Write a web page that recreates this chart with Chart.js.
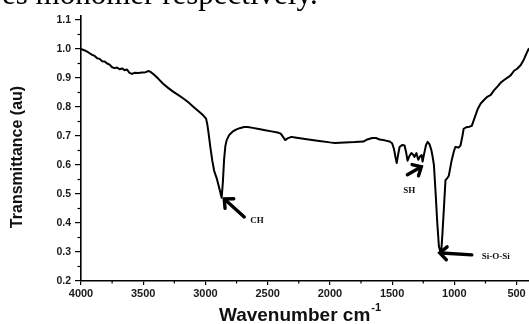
<!DOCTYPE html>
<html>
<head>
<meta charset="utf-8">
<script src="https://cdn.jsdelivr.net/npm/chart.js@4.4.1/dist/chart.umd.min.js"></script>
<style>
  html, body { margin: 0; padding: 0; background: #fff; }
  #area { width: 529px; height: 324px; }
</style>
</head>
<body>
<div id="area"><canvas id="graficoFTIR" width="529" height="324"></canvas></div>
<script>
// espectro FTIR (numero de onda em cm-1 e transmitancia)
const numeroOnda = [
  4000, 3970, 3940, 3910, 3890, 3870, 3850, 3830, 3810, 3790, 3770, 3750, 3730, 3710, 3690, 3670,
  3650, 3630, 3610, 3590, 3570, 3540, 3510, 3480, 3460, 3440, 3410, 3380, 3340, 3300, 3260, 3220,
  3180, 3140, 3100, 3060, 3020, 2995, 2985, 2975, 2960, 2945, 2930, 2910, 2895, 2880, 2870, 2860,
  2850, 2840, 2830, 2810, 2785, 2755, 2725, 2690, 2660, 2620, 2570, 2520, 2470, 2420, 2395, 2375,
  2360, 2340, 2310, 2280, 2200, 2100, 2000, 1960, 1880, 1800, 1730, 1700, 1660, 1630, 1600, 1560,
  1520, 1500, 1485, 1472, 1463, 1452, 1440, 1420, 1400, 1388, 1376, 1362, 1345, 1332, 1320, 1305,
  1290, 1275, 1263, 1255, 1242, 1228, 1215, 1200, 1185, 1175, 1164, 1150, 1137, 1124, 1110, 1104,
  1096, 1088, 1080, 1071, 1060, 1045, 1035, 1022, 1005, 992, 965, 950, 935, 925, 905, 880,
  860, 835, 810, 788, 760, 735, 707, 680, 650, 627, 600, 570, 546, 520, 495, 466,
  440, 420, 400
];
const transmitancia = [
  1.000, 0.995, 0.988, 0.980, 0.976, 0.968, 0.966, 0.958, 0.957, 0.950, 0.946, 0.937, 0.934, 0.936, 0.930, 0.933,
  0.927, 0.929, 0.918, 0.914, 0.918, 0.917, 0.919, 0.920, 0.924, 0.921, 0.910, 0.898, 0.880, 0.866, 0.853, 0.842,
  0.830, 0.817, 0.802, 0.787, 0.772, 0.760, 0.740, 0.710, 0.660, 0.615, 0.580, 0.555, 0.530, 0.505, 0.487, 0.540,
  0.620, 0.665, 0.685, 0.703, 0.714, 0.722, 0.727, 0.731, 0.731, 0.728, 0.724, 0.720, 0.716, 0.712, 0.708, 0.696,
  0.686, 0.692, 0.697, 0.695, 0.690, 0.684, 0.678, 0.676, 0.678, 0.679, 0.681, 0.688, 0.693, 0.693, 0.688, 0.685,
  0.681, 0.675, 0.655, 0.625, 0.607, 0.635, 0.662, 0.669, 0.667, 0.645, 0.615, 0.630, 0.641, 0.636, 0.628, 0.641,
  0.618, 0.630, 0.634, 0.612, 0.640, 0.668, 0.680, 0.672, 0.652, 0.630, 0.600, 0.500, 0.400, 0.320, 0.297, 0.310,
  0.360, 0.420, 0.480, 0.548, 0.553, 0.562, 0.585, 0.615, 0.645, 0.662, 0.660, 0.668, 0.700, 0.725, 0.730, 0.732,
  0.735, 0.765, 0.795, 0.812, 0.825, 0.835, 0.842, 0.858, 0.872, 0.884, 0.893, 0.902, 0.910, 0.925, 0.932, 0.945,
  0.965, 0.985, 1.003
];

const ticksX = [4000, 3500, 3000, 2500, 2000, 1500, 1000, 500];
const ticksMenoresX = [3750, 3250, 2750, 2250, 1750, 1250, 750];
const ticksY = [0.2, 0.3, 0.4, 0.5, 0.6, 0.7, 0.8, 0.9, 1.0, 1.1];
const ticksMenoresY = [0.25, 0.35, 0.45, 0.55, 0.65, 0.75, 0.85, 0.95, 1.05];

// bandas anotadas: rotulo e ponto (numero de onda, transmitancia) para onde a seta aponta
const bandasRotulo = ["CH", "SH", "Si-O-Si"];
const bandasOnda = [2849, 1265, 1117];
const bandasTransm = [0.483, 0.594, 0.297];

const textoTopo = "es monomer respectively.";
const tituloX = "Wavenumber cm";
const tituloXExpoente = "-1";
const tituloY = "Transmittance (au)";

const fonteSans = "'Liberation Sans', Arial, sans-serif";
const fonteSerif = "'Liberation Serif', 'Times New Roman', serif";

function desenharSeta(ctx, x0, y0, x1, y1) {
  const ang = Math.atan2(y1 - y0, x1 - x0);
  const aba = 9.5;
  ctx.lineWidth = 3.4;
  ctx.lineCap = "round";
  ctx.lineJoin = "miter";
  ctx.beginPath();
  ctx.moveTo(x0, y0);
  ctx.lineTo(x1 - Math.cos(ang) * 2, y1 - Math.sin(ang) * 2);
  ctx.stroke();
  ctx.beginPath();
  ctx.moveTo(x1 - aba * Math.cos(ang - 0.75), y1 - aba * Math.sin(ang - 0.75));
  ctx.lineTo(x1, y1);
  ctx.lineTo(x1 - aba * Math.cos(ang + 0.75), y1 - aba * Math.sin(ang + 0.75));
  ctx.stroke();
}

const extras = {
  id: "extras",
  afterDraw(chart) {
    const { ctx, chartArea, scales } = chart;
    const x = scales.x, y = scales.y;
    ctx.save();

    // ticks menores
    ctx.strokeStyle = "#000";
    ctx.lineWidth = 1.2;
    ticksMenoresX.forEach(v => {
      const px = x.getPixelForValue(v);
      ctx.beginPath();
      ctx.moveTo(px, chartArea.bottom);
      ctx.lineTo(px, chartArea.bottom + 2.5);
      ctx.stroke();
    });
    ticksMenoresY.forEach(v => {
      const py = y.getPixelForValue(v);
      ctx.beginPath();
      ctx.moveTo(chartArea.left - 3.5, py);
      ctx.lineTo(chartArea.left, py);
      ctx.stroke();
    });

    // setas e rotulos das bandas
    const deslocSeta = { "CH": [20, 18], "SH": [-14, 8], "Si-O-Si": [32, 2] };
    const deslocTexto = { "CH": [26, 24, "left"], "SH": [-12, 26, "center"], "Si-O-Si": [42, 6, "left"] };
    ctx.fillStyle = "#111";
    ctx.strokeStyle = "#000";
    bandasRotulo.forEach((rotulo, i) => {
      const px = x.getPixelForValue(bandasOnda[i]);
      const py = y.getPixelForValue(bandasTransm[i]);
      const d = deslocSeta[rotulo];
      desenharSeta(ctx, px + d[0], py + d[1], px, py);
      const t = deslocTexto[rotulo];
      ctx.font = "bold 9px " + fonteSerif;
      ctx.textAlign = t[2];
      ctx.textBaseline = "alphabetic";
      ctx.fillText(rotulo, px + t[0], py + t[1]);
    });

    // titulo do eixo x com expoente
    ctx.fillStyle = "#111";
    ctx.textAlign = "left";
    ctx.textBaseline = "alphabetic";
    ctx.font = "bold 19px " + fonteSans;
    const larg = ctx.measureText(tituloX).width;
    ctx.font = "bold 11px " + fonteSans;
    const largExp = ctx.measureText(tituloXExpoente).width;
    const inicio = 300 - (larg + largExp + 1) / 2;
    ctx.font = "bold 19px " + fonteSans;
    ctx.fillText(tituloX, inicio, 321);
    ctx.font = "bold 11px " + fonteSans;
    ctx.fillText(tituloXExpoente, inicio + larg + 1, 311);

    // titulo do eixo y
    ctx.save();
    ctx.translate(18, 157);
    ctx.rotate(-Math.PI / 2);
    ctx.font = "bold 16px " + fonteSans;
    ctx.textAlign = "center";
    ctx.textBaseline = "middle";
    ctx.fillText(tituloY, 0, 0);
    ctx.restore();

    // texto do artigo cortado no topo
    ctx.font = "31px " + fonteSerif;
    ctx.textAlign = "left";
    ctx.textBaseline = "alphabetic";
    ctx.fillStyle = "#000";
    ctx.fillText(textoTopo, 2, 4);

    ctx.restore();
  }
};

const pontos = numeroOnda.map((v, i) => ({ x: v, y: transmitancia[i] }));

new Chart(document.getElementById("graficoFTIR"), {
  type: "line",
  data: {
    datasets: [{
      label: "FTIR",
      data: pontos,
      borderColor: "#000",
      borderWidth: 2,
      pointRadius: 0,
      tension: 0,
      borderJoinStyle: "round",
      fill: false
    }]
  },
  options: {
    responsive: false,
    animation: false,
    devicePixelRatio: 1,
    layout: { padding: { top: 16, right: 0, bottom: 0, left: 0 } },
    plugins: { legend: { display: false }, tooltip: { enabled: false } },
    scales: {
      x: {
        type: "linear",
        reverse: true,
        min: 400,
        max: 4000,
        afterBuildTicks: s => { s.ticks = ticksX.map(v => ({ value: v })); },
        afterFit: s => { s.height = 43; },
        border: { display: true, color: "#000", width: 1.6 },
        grid: { drawOnChartArea: false, drawTicks: true, tickLength: 4, color: "#000", lineWidth: 1.2 },
        ticks: {
          autoSkip: false,
          maxRotation: 0,
          padding: 2,
          color: "#1a1a1a",
          font: { family: fonteSans, size: 11, weight: "bold" },
          callback: v => String(v)
        }
      },
      y: {
        type: "linear",
        min: 0.2,
        max: 1.1138,
        afterBuildTicks: s => { s.ticks = ticksY.map(v => ({ value: v })); },
        afterFit: s => { s.width = 81; },
        border: { display: true, color: "#000", width: 1.6 },
        grid: { drawOnChartArea: false, drawTicks: true, tickLength: 6, color: "#000", lineWidth: 1.2 },
        ticks: {
          padding: 4,
          color: "#1a1a1a",
          font: { family: fonteSans, size: 10.5, weight: "bold" },
          callback: v => Number(v).toFixed(1)
        }
      }
    }
  },
  plugins: [extras]
});
</script>
</body>
</html>
